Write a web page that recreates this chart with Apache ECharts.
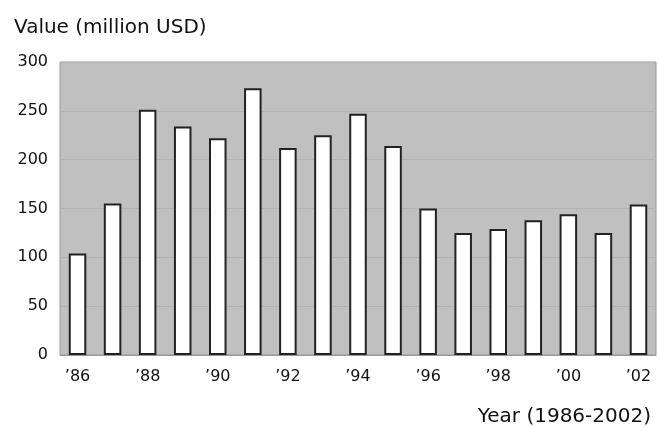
<!DOCTYPE html>
<html>
<head>
<meta charset="utf-8">
<script src="https://cdn.jsdelivr.net/npm/echarts@6/dist/echarts.min.js"></script>
<style>
  html, body { margin: 0; padding: 0; background: #fff; }
  #chart { width: 659px; height: 427px; }
</style>
</head>
<body>
<div id="chart"></div>
<script>
// years 1986..2002, labelled every other year
const years = ['’86', '’87', '’88', '’89', '’90', '’91', '’92', '’93', '’94',
  '’95', '’96', '’97', '’98', '’99', '’00', '’01', '’02'];
const values = [104, 155, 251, 234, 222, 273, 212, 225, 247, 214, 150, 125, 129, 138, 144, 125, 154];
const yTicks = [0, 50, 100, 150, 200, 250, 300];

const chart = echarts.init(document.getElementById('chart'), null, { renderer: 'canvas' });
const font = 'DejaVu Sans';

const option = {
    animation: false,
    textStyle: { fontFamily: font },
    title: [
        {
            text: 'Value (million USD)',
            left: 9, top: 13,
            textStyle: { fontFamily: font, fontSize: 20, fontWeight: 'normal', color: '#111' }
        },
        {
            text: 'Year (1986-2002)',
            right: 3, top: 402,
            textStyle: { fontFamily: font, fontSize: 20, fontWeight: 'normal', color: '#111' }
        }
    ],
    grid: {
        left: 60, right: 3, top: 62, bottom: 72,
        show: true,
        backgroundColor: '#c0c0c0',
        borderColor: '#999',
        borderWidth: 1
    },
    xAxis: {
        type: 'category',
        data: years,
        axisLine: { lineStyle: { color: '#999' } },
        axisTick: { show: false },
        axisLabel: {
            interval: 1,
            margin: 14,
            fontSize: 16,
            color: '#111',
            fontFamily: font
        }
    },
    yAxis: {
        type: 'value',
        min: yTicks[0],
        max: yTicks[yTicks.length - 1],
        interval: 50,
        axisLine: { show: false },
        axisTick: { show: false },
        splitLine: { lineStyle: { color: '#b2b2b2', width: 1 } },
        axisLabel: {
            margin: 12,
            fontSize: 16,
            color: '#111',
            fontFamily: font
        }
    },
    series: [
        {
            name: 'Value',
            type: 'bar',
            data: values,
            barWidth: '50%',
            itemStyle: {
                color: '#ffffff',
                borderColor: '#222',
                borderWidth: 2
            }
        }
    ]
};

chart.setOption(option);
</script>
</body>
</html>
